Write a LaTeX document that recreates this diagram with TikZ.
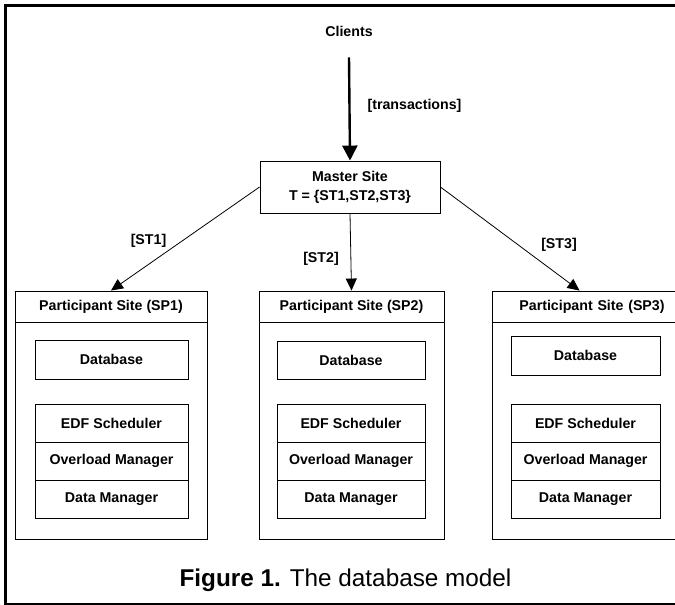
\documentclass[tikz,border=0pt]{standalone}
\usepackage{fontspec}
\setmainfont{Liberation Sans}
\usetikzlibrary{arrows.meta,calc}
\begin{document}
\begin{tikzpicture}[x=1pt,y=-1pt,
  lbl/.style={font=\fontsize{14.2}{19}\selectfont\bfseries, inner sep=0pt, align=center},
  boxn/.style={draw, line width=0.9pt, inner sep=0pt, font=\fontsize{14.2}{19}\selectfont\bfseries, align=center},
  thinarrow/.style={line width=0.8pt, -{Triangle[width=11pt,length=12pt]}},
  thickarrow/.style={line width=2.4pt, -{Triangle[width=15pt,length=15pt]}},
  frame/.style={line width=3pt}]
\useasboundingbox (0,0) rectangle (675,605);
\clip (0,0) rectangle (675,605);
\draw[frame] (5,5) rectangle (700,604);

% top
\node[lbl] (clients) at (349,31) {Clients};
\node[boxn, minimum width=180pt, minimum height=52pt] (ms) at (350,187) {Master Site\\T = \{ST1,ST2,ST3\}};
\draw[thickarrow] ([yshift=-21pt]clients.south) -- (ms.north);
\node[lbl] (ltr) at (414.5,106) {[transactions]};

% participant site 1
\node[boxn, minimum width=192pt, minimum height=248pt] (sp1) at (111,415) {};
\node[boxn, minimum width=192pt, minimum height=31pt] (sp1h) at (111,306.5) {Participant Site (SP1)};
\node[boxn, minimum width=153pt, minimum height=39pt] (sp1db) at (111.5,359.5) {Database};
\node[boxn, minimum width=153pt, minimum height=38pt] (sp1a) at (111.5,423) {EDF Scheduler};
\node[boxn, minimum width=153pt, minimum height=38pt] (sp1b) at (111.5,461) {Overload Manager};
\node[boxn, minimum width=153pt, minimum height=38pt] (sp1c) at (111.5,499) {Data Manager};

% participant site 2
\node[boxn, minimum width=185pt, minimum height=248pt] (sp2) at (351.5,415) {};
\node[boxn, minimum width=185pt, minimum height=31pt] (sp2h) at (351.5,306.5) {Participant Site (SP2)};
\node[boxn, minimum width=148pt, minimum height=38pt] (sp2db) at (351,360) {Database};
\node[boxn, minimum width=148pt, minimum height=38pt] (sp2a) at (351,423) {EDF Scheduler};
\node[boxn, minimum width=148pt, minimum height=38pt] (sp2b) at (351,461) {Overload Manager};
\node[boxn, minimum width=148pt, minimum height=38pt] (sp2c) at (351,499) {Data Manager};

% participant site 3 (extends past the right edge)
\node[boxn, minimum width=200pt, minimum height=248pt] (sp3) at (592,415) {};
\node[boxn, minimum width=200pt, minimum height=31pt, text width=176pt, align=center] (sp3h) at (592,306.5) {Participant Site (SP3)};
\node[boxn, minimum width=149pt, minimum height=39pt] (sp3db) at (585.5,355.5) {Database};
\node[boxn, minimum width=149pt, minimum height=38pt] (sp3a) at (585.5,423) {EDF Scheduler};
\node[boxn, minimum width=149pt, minimum height=38pt] (sp3b) at (585.5,461) {Overload Manager};
\node[boxn, minimum width=149pt, minimum height=38pt] (sp3c) at (585.5,499) {Data Manager};

% connectors
\coordinate (sp3in) at ($(sp3h.north west)+(88,0)$);
\draw[thinarrow] (ms.west) -- (sp1h.north);
\draw[thinarrow] (ms.south) -- (sp2h.north);
\draw[thinarrow] (ms.east) -- (sp3in);
\node[lbl] (l1) at (148.5,241) {[ST1]};
\node[lbl] (l2) at (321,259) {[ST2]};
\node[lbl] (l3) at (559,245) {[ST3]};

% caption
\node[inner sep=0pt, font=\fontsize{24.3}{28}\selectfont] (cap) at (345.5,580) {\textbf{Figure 1.} The database model};
\end{tikzpicture}
\end{document}
